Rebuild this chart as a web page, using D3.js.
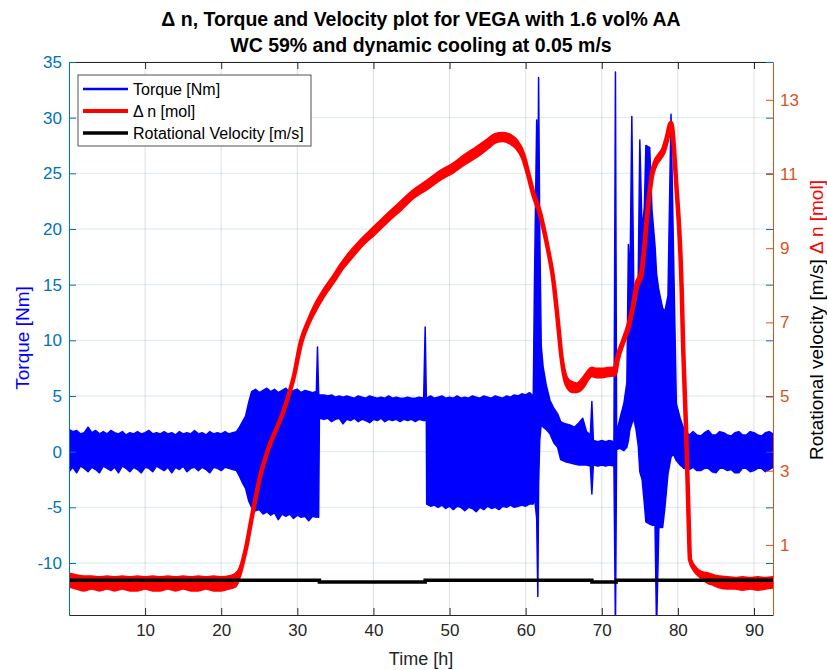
<!DOCTYPE html>
<html>
<head>
<meta charset="utf-8">
<title>Torque and delta n</title>
<script src="https://cdn.jsdelivr.net/npm/d3@7"></script>
<style>
  body { margin: 0; background: #fff; }
  svg { display: block; font-family: "Liberation Sans", Arial, Helvetica, sans-serif; }
</style>
</head>
<body>
<svg id="chart" width="827" height="670"></svg>
<script>
// ---- data ----
const timeTicks = [10, 20, 30, 40, 50, 60, 70, 80, 90];
const torqueTicks = [-10, -5, 0, 5, 10, 15, 20, 25, 30, 35];
const molTicks = [1, 3, 5, 7, 9, 11, 13];

// torque [Nm]: time [h], lower and upper edge of the noisy band
const torque = [
  [0.0, -1.8, 2.0], [0.5, -1.4, 1.8], [1.0, -1.9, 1.9], [1.5, -1.3, 1.6], [2.0, -1.5, 1.7],
  [2.5, -1.8, 2.2], [3.0, -1.4, 1.7], [3.5, -1.6, 1.9], [4.0, -1.9, 1.6], [4.5, -1.3, 1.8],
  [5.0, -1.5, 1.6], [5.5, -1.7, 1.9], [6.0, -1.4, 1.7], [6.5, -1.9, 1.6], [7.0, -1.3, 1.8],
  [7.5, -1.5, 1.5], [8.0, -1.8, 1.7], [8.5, -1.4, 1.6], [9.0, -1.6, 1.8], [9.5, -1.9, 1.6],
  [10.0, -1.4, 1.7], [10.5, -1.5, 1.9], [11.0, -1.8, 1.6], [11.5, -1.3, 1.7], [12.0, -1.5, 1.6],
  [12.5, -1.7, 1.8], [13.0, -1.4, 1.6], [13.5, -1.9, 1.7], [14.0, -1.4, 1.5], [14.5, -1.6, 1.8],
  [15.0, -1.3, 1.6], [15.5, -1.8, 1.7], [16.0, -1.5, 1.6], [16.5, -1.4, 1.9], [17.0, -1.7, 1.6],
  [17.5, -1.4, 1.7], [18.0, -1.6, 1.5], [18.5, -1.9, 1.8], [19.0, -1.4, 1.6], [19.5, -1.5, 1.7],
  [20.0, -1.7, 1.6], [20.5, -1.4, 1.8], [21.0, -1.5, 1.6], [21.5, -1.6, 1.7], [22.0, -1.7, 1.8],
  [22.4, -2.2, 2.2], [22.8, -2.8, 2.7], [23.2, -3.3, 3.2], [23.6, -4.4, 4.4], [24.0, -5.0, 5.4],
  [24.5, -5.3, 5.6], [25.0, -5.2, 5.3], [25.5, -5.6, 5.5], [26.0, -5.4, 5.7], [26.5, -5.7, 5.4],
  [27.0, -5.5, 5.6], [27.5, -6.1, 5.3], [28.0, -5.6, 5.5], [28.5, -5.8, 5.7], [29.0, -5.6, 5.3],
  [29.5, -6.0, 5.5], [30.0, -5.7, 5.6], [30.5, -5.9, 5.3], [31.0, -5.8, 5.5], [31.5, -6.2, 5.4],
  [32.0, -5.8, 5.3], [32.5, -5.9, 5.4], [32.65, -5.8, 9.4], [32.8, -5.9, 5.2], [32.9, 3.0, 5.1],
  [33.5, 2.9, 5.1], [34.0, 3.0, 5.0], [34.5, 2.7, 5.1], [35.0, 2.9, 4.9], [35.5, 3.0, 5.0],
  [36.0, 2.5, 4.9], [36.5, 2.9, 5.0], [37.0, 2.8, 4.9], [37.5, 3.0, 4.8], [38.0, 2.7, 5.0],
  [38.5, 2.9, 4.9], [39.0, 2.8, 4.8], [39.5, 2.6, 5.0], [40.0, 2.9, 4.9], [40.5, 2.8, 4.8],
  [41.0, 3.0, 4.9], [41.5, 2.7, 4.8], [42.0, 2.9, 5.0], [42.5, 2.8, 4.8], [43.0, 2.9, 4.9],
  [43.5, 2.7, 4.8], [44.0, 2.9, 4.8], [44.5, 2.8, 4.9], [45.0, 2.9, 4.8], [45.5, 2.7, 4.8],
  [46.0, 2.9, 4.9], [46.6, 2.8, 4.8], [46.8, 2.8, 11.2], [46.95, 2.9, 4.7], [47.0, -4.7, 4.8],
  [47.5, -4.9, 5.0], [48.0, -4.8, 4.8], [48.5, -5.0, 4.9], [49.0, -4.8, 5.0], [49.5, -5.1, 4.8],
  [50.0, -4.9, 4.9], [50.5, -5.2, 4.8], [51.0, -4.9, 5.0], [51.5, -5.0, 4.8], [52.0, -5.3, 4.9],
  [52.5, -5.0, 4.8], [53.0, -5.1, 5.0], [53.5, -5.4, 4.9], [54.0, -5.0, 4.8], [54.5, -5.2, 5.0],
  [55.0, -4.9, 4.9], [55.5, -5.1, 4.8], [56.0, -5.0, 5.0], [56.5, -5.2, 4.9], [57.0, -4.9, 4.8],
  [57.5, -5.0, 5.0], [58.0, -4.8, 4.9], [58.5, -5.0, 5.1], [59.0, -4.9, 5.0], [59.5, -4.8, 5.2],
  [60.0, -4.9, 5.1], [60.5, -4.7, 5.3], [61.0, -4.7, 5.0], [61.15, -4.0, 14.7], [61.45, -6.0, 29.8],
  [61.6, -13.0, 22.0], [61.7, -3.0, 33.6], [61.85, 1.0, 20.0], [62.05, 2.5, 9.5], [62.3, 2.2, 7.6],
  [62.7, 2.0, 6.0], [63.2, 1.6, 4.6], [63.7, 0.8, 3.9], [64.2, 0.4, 3.4], [64.6, -0.7, 2.7],
  [65.2, -0.9, 2.5], [65.8, -1.0, 2.4], [66.4, -1.1, 2.2], [67.0, -1.2, 2.6], [67.5, -1.2, 3.0],
  [68.0, -1.2, 1.8], [68.5, -1.3, 1.5], [68.7, -3.8, 4.5], [68.9, -1.2, 1.0], [69.5, -1.3, 0.9],
  [70.0, -1.2, 1.0], [70.5, -1.3, 0.9], [71.0, -1.2, 1.0], [71.6, -1.3, 0.9], [71.8, -16.0, 34.1],
  [71.95, 0.2, 1.7], [72.4, 0.3, 3.0], [72.9, 0.1, 4.3], [73.3, 0.4, 6.2], [73.5, 1.0, 18.6],
  [73.7, 2.0, 15.0], [73.95, 2.5, 30.1], [74.2, 3.0, 15.0], [74.5, 2.0, 12.0], [74.8, 0.5, 16.0],
  [75.0, -1.8, 28.0], [75.3, -2.5, 19.8], [75.6, -4.7, 22.0], [75.8, -6.3, 27.5], [76.3, -6.5, 27.3],
  [76.6, -6.6, 21.7], [77.0, -6.6, 18.5], [77.2, -16.0, 16.0], [77.5, -6.8, 14.5], [78.0, -6.8, 12.9],
  [78.3, -5.0, 12.6], [78.7, -2.0, 14.0], [79.1, -0.5, 30.3], [79.4, -0.2, 19.0], [79.8, -0.8, 4.3],
  [80.3, -1.2, 3.0], [80.8, -1.5, 2.0], [81.5, -1.6, 1.5], [82.0, -1.4, 1.8], [82.5, -1.7, 1.5],
  [83.0, -1.7, 1.4], [83.5, -1.5, 1.7], [84.0, -1.5, 1.9], [84.5, -1.8, 1.5], [85.0, -1.9, 1.5],
  [85.5, -1.5, 1.8], [86.0, -1.5, 1.7], [86.5, -1.7, 1.5], [87.0, -1.6, 1.4], [87.5, -1.9, 1.7],
  [88.0, -1.9, 1.8], [88.5, -1.5, 1.5], [89.0, -1.5, 1.5], [89.5, -1.8, 1.8], [90.0, -1.7, 1.7],
  [90.5, -1.5, 1.5], [91.0, -1.5, 1.4], [91.5, -1.8, 1.7], [92.0, -1.6, 1.8], [92.5, -1.4, 1.6]
];

// delta n [mol]: time [h], lower and upper edge of the red trace
const deltaN = [
  [0.0, -0.1, 0.2], [1, -0.15, 0.15], [2, -0.2, 0.12], [3, -0.15, 0.12], [4, -0.2, 0.1],
  [5, -0.15, 0.12], [6, -0.2, 0.1], [7, -0.15, 0.12], [8, -0.2, 0.1], [9, -0.2, 0.12],
  [10, -0.15, 0.1], [11, -0.2, 0.12], [12, -0.2, 0.1], [13, -0.15, 0.12], [14, -0.2, 0.1],
  [15, -0.15, 0.12], [16, -0.2, 0.1], [17, -0.2, 0.12], [18, -0.15, 0.1], [19, -0.2, 0.12],
  [20, -0.2, 0.1], [21, -0.15, 0.12], [21.8, -0.1, 0.18],
  [22.4, 0.2, 0.3], [22.9, 0.6, 0.6], [23.3, 0.95, 0.95], [23.8, 1.5, 1.5], [24.2, 1.94, 1.94],
  [24.7, 2.45, 2.45], [25.1, 2.84, 2.84], [25.6, 3.2, 3.2], [26.0, 3.48, 3.48], [26.6, 3.82, 3.82],
  [27.3, 4.15, 4.15], [28.0, 4.5, 4.5], [28.6, 4.87, 4.87], [29.5, 5.5, 5.5], [30.5, 6.45, 6.5],
  [31.5, 7.0, 7.05], [32.5, 7.4, 7.5], [33.5, 7.75, 7.85], [34.7, 8.1, 8.2], [35.8, 8.45, 8.55],
  [36.9, 8.72, 8.85], [38.5, 9.1, 9.22], [40.0, 9.38, 9.52], [41.7, 9.72, 9.86], [43.5, 10.05, 10.2],
  [45.2, 10.38, 10.52], [47.0, 10.62, 10.78], [48.8, 10.88, 11.05], [50.5, 11.08, 11.25],
  [52.0, 11.3, 11.48], [53.6, 11.5, 11.7], [55.0, 11.72, 11.9], [56.0, 11.88, 12.05],
  [57.0, 11.92, 12.08], [58.0, 11.85, 12.02], [58.8, 11.72, 11.88], [59.7, 11.42, 11.52],
  [60.3, 11.0, 11.05], [61.0, 10.45, 10.5], [61.9, 9.9, 9.95], [62.3, 9.58, 9.6], [63.0, 8.9, 8.9],
  [63.6, 8.2, 8.2], [64.2, 7.1, 7.1], [64.7, 6.08, 6.08], [65.2, 5.45, 5.55], [65.6, 5.25, 5.42],
  [66.2, 5.15, 5.35], [66.7, 5.15, 5.32], [67.2, 5.2, 5.38], [67.6, 5.3, 5.48], [68.2, 5.5, 5.65],
  [68.7, 5.58, 5.75], [69.3, 5.55, 5.72], [70.0, 5.55, 5.72], [70.8, 5.58, 5.74], [71.7, 5.6, 5.76],
  [72.1, 6.0, 6.1], [72.8, 6.45, 6.5], [73.5, 6.85, 6.92], [74.1, 7.4, 7.45], [74.6, 7.95, 8.05],
  [75.2, 8.25, 8.35], [75.6, 9.0, 9.05], [75.9, 9.7, 9.78], [76.3, 10.5, 10.55], [76.6, 10.95, 11.02],
  [77.0, 11.22, 11.32], [77.6, 11.42, 11.52], [78.1, 11.58, 11.68], [78.5, 11.85, 11.95],
  [79.1, 12.3, 12.38], [79.8, 10.7, 10.7], [80.5, 7.9, 7.9], [80.7, 6.3, 6.3], [81.1, 4.0, 4.0],
  [81.4, 1.8, 1.8], [81.6, 0.6, 0.6], [82.3, 0.3, 0.36], [83.0, 0.15, 0.25], [84.0, 0.0, 0.2],
  [84.7, -0.05, 0.15], [85.5, -0.12, 0.12], [86.5, -0.15, 0.1], [87.5, -0.15, 0.08],
  [88.5, -0.18, 0.1], [89.5, -0.15, 0.08], [90.5, -0.18, 0.1], [91.5, -0.15, 0.08], [92.5, -0.12, 0.1]
];

// rotational velocity [m/s] (step changes)
const velocity = [
  [0, 0.05], [32.9, 0.0], [46.8, 0.05], [68.7, 0.0], [71.9, 0.05], [92.5, 0.05]
];

// ---- layout ----
const L = 69, R = 773, T = 62, B = 615;
const BLUE_AX = "#0072BD", ORANGE_AX = "#D95319", DARK = "#262626";
const plain = d => String(d); // hyphen minus like the original

const svg = d3.select("#chart");
const x = d3.scaleLinear().domain([0, 92.5]).range([L, R]);
const yT = d3.scaleLinear().domain([-14.67, 35]).range([B, T]);
const yN = d3.scaleLinear().domain([-0.89, 14.02]).range([B, T]);

svg.append("rect").attr("width", 827).attr("height", 670).attr("fill", "#fff");

svg.append("defs").append("clipPath").attr("id", "plot")
  .append("rect").attr("x", L).attr("y", T).attr("width", R - L).attr("height", B - T);

// grid
const grid = svg.append("g");
grid.selectAll("line.gx").data(timeTicks).join("line")
  .attr("x1", d => x(d)).attr("x2", d => x(d)).attr("y1", T).attr("y2", B)
  .attr("stroke", "rgba(38,38,38,0.15)").attr("stroke-width", 1);
grid.selectAll("line.gy").data(torqueTicks).join("line")
  .attr("x1", L).attr("x2", R).attr("y1", d => yT(d)).attr("y2", d => yT(d))
  .attr("stroke", "rgba(0,114,189,0.15)").attr("stroke-width", 1);

// data
const plot = svg.append("g").attr("clip-path", "url(#plot)");

plot.append("path").datum(torque)
  .attr("d", d3.area().x(d => x(d[0])).y0(d => yT(d[1])).y1(d => yT(d[2])))
  .attr("fill", "#0000ff").attr("stroke", "#0000ff").attr("stroke-width", 1.5)
  .attr("stroke-linejoin", "round");

plot.append("path").datum(deltaN)
  .attr("d", d3.area().curve(d3.curveMonotoneX)
    .x(d => x(d[0])).y0(d => yN(d[1])).y1(d => yN(d[2])))
  .attr("fill", "#ff0000").attr("stroke", "#ff0000").attr("stroke-width", 4.5)
  .attr("stroke-linejoin", "round");

plot.append("path").datum(velocity)
  .attr("d", d3.line().x(d => x(d[0])).y(d => yN(d[1])).curve(d3.curveStepAfter))
  .attr("fill", "none").attr("stroke", "#000").attr("stroke-width", 3.5);

// axes
function style(g, color, size) {
  g.selectAll("text").attr("fill", color).style("font-size", size + "px")
    .style("font-family", '"Liberation Sans", Arial, sans-serif');
  g.selectAll("line").attr("stroke", color);
  g.select(".domain").attr("stroke", color);
}

svg.append("g").attr("transform", `translate(0,${B})`)
  .call(d3.axisBottom(x).tickValues(timeTicks).tickFormat(plain).tickSize(-7).tickSizeOuter(0).tickPadding(9))
  .call(g => style(g, DARK, 17));
svg.append("g").attr("transform", `translate(0,${T})`)
  .call(d3.axisTop(x).tickValues(timeTicks).tickSize(-7).tickSizeOuter(0).tickFormat(""))
  .call(g => style(g, DARK, 17));

svg.append("g").attr("transform", `translate(${L},0)`)
  .call(d3.axisLeft(yT).tickValues(torqueTicks).tickFormat(plain).tickSize(-7).tickSizeOuter(0).tickPadding(7))
  .call(g => style(g, BLUE_AX, 17));
svg.append("g").attr("transform", `translate(${R},0)`)
  .call(d3.axisRight(yT).tickValues(torqueTicks).tickSize(-7).tickSizeOuter(0).tickFormat(""))
  .call(g => style(g, BLUE_AX, 17))
  .call(g => g.select(".domain").remove());
svg.append("g").attr("transform", `translate(${R},0)`)
  .call(d3.axisRight(yN).tickValues(molTicks).tickFormat(plain).tickSize(-7).tickSizeOuter(0).tickPadding(7))
  .call(g => style(g, ORANGE_AX, 17));

// axis labels
svg.append("text").attr("x", 421).attr("y", 665).attr("text-anchor", "middle")
  .attr("fill", DARK).style("font-size", "18px").text("Time [h]");

svg.append("text").attr("transform", "translate(29,338) rotate(-90)").attr("text-anchor", "middle")
  .attr("fill", "#0000ff").style("font-size", "19px").text("Torque [Nm]");

const rl = svg.append("text").attr("transform", "translate(823,320) rotate(-90)")
  .attr("text-anchor", "middle").style("font-size", "19px");
rl.append("tspan").attr("fill", "#000").text("Rotational velocity [m/s]  ");
rl.append("tspan").attr("fill", "#ff0000").text("\u0394 n [mol]");

// title
const title = ["\u0394 n, Torque and Velocity plot for VEGA with 1.6 vol% AA",
               "WC 59% and dynamic cooling at 0.05 m/s"];
svg.selectAll("text.title").data(title).join("text").attr("class", "title")
  .attr("x", 421).attr("y", (d, i) => 26 + i * 26).attr("text-anchor", "middle")
  .attr("fill", "#000").style("font-size", "19.5px").style("font-weight", "bold").text(d => d);

// legend
const legendItems = [
  { label: "Torque [Nm]", color: "#0000ff", w: 2.5 },
  { label: "\u0394 n [mol]", color: "#ff0000", w: 4 },
  { label: "Rotational Velocity [m/s]", color: "#000", w: 3.5 }
];
const lg = svg.append("g");
lg.append("rect").attr("x", 78).attr("y", 75).attr("width", 233).attr("height", 71)
  .attr("fill", "#fff").attr("stroke", DARK).attr("stroke-width", 0.8);
const li = lg.selectAll("g.item").data(legendItems).join("g")
  .attr("transform", (d, i) => `translate(0,${89 + i * 22})`);
li.append("line").attr("x1", 83).attr("x2", 128).attr("stroke", d => d.color).attr("stroke-width", d => d.w);
li.append("text").attr("x", 133).attr("dy", "0.35em").attr("fill", "#000")
  .style("font-size", "16px").text(d => d.label);
</script>
</body>
</html>
